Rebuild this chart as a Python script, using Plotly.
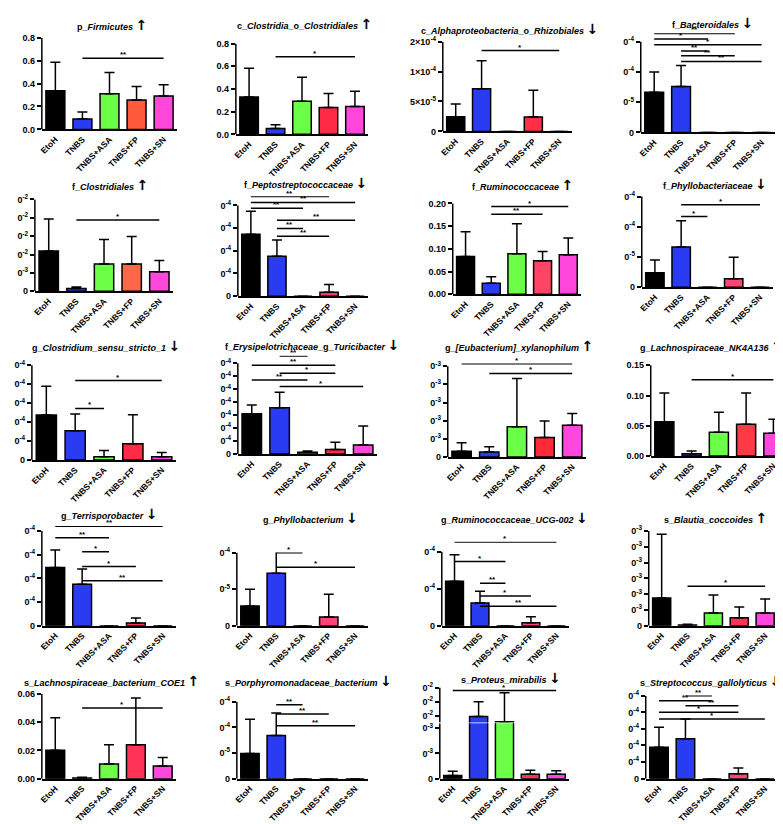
import plotly.graph_objects as go

W, H = 783, 824
groups = ["EtoH", "TNBS", "TNBS+ASA", "TNBS+FP", "TNBS+SN"]

# ---------------- data ----------------
firmicutes_mean = [0.338, 0.092, 0.312, 0.257, 0.292]
firmicutes_sd = [0.248, 0.061, 0.185, 0.118, 0.098]
firmicutes_sig = [(1, 4, "**", 0.621)]
firmicutes_ticks = [0, 0.2, 0.4, 0.6, 0.8]
firmicutes_ticktext = ["0.0", "0.2", "0.4", "0.6", "0.8"]

clostridiales_o_mean = [0.329, 0.052, 0.292, 0.237, 0.245]
clostridiales_o_sd = [0.254, 0.032, 0.211, 0.124, 0.136]
clostridiales_o_sig = [(1, 4, "*", 0.684)]
clostridiales_o_ticks = [0, 0.2, 0.4, 0.6, 0.8]
clostridiales_o_ticktext = ["0.0", "0.2", "0.4", "0.6", "0.8"]

rhizobiales_mean = [2.47e-5, 7.14e-5, 0, 2.42e-5, 0]
rhizobiales_sd = [2.09e-5, 4.66e-5, 0, 4.45e-5, 0]
rhizobiales_sig = [(1, 4, "*", 1.35e-4)]
rhizobiales_ticks = [0, 5e-5, 1e-4, 1.5e-4]
rhizobiales_ticktext = ["0", "5×10<sup>-5</sup>", "1×10<sup>-4</sup>", "2×10<sup>-4</sup>"]

bacteroidales_mean = [6.65e-5, 7.58e-5, 0, 0, 0]
bacteroidales_sd = [3.33e-5, 3.49e-5, 0, 0, 0]
bacteroidales_sig = [(0, 3, "**", 1.636e-4), (0, 2, "*", 1.543e-4), (0, 4, "*", 1.45e-4),
                     (1, 2, "**", 1.347e-4), (1, 3, "**", 1.265e-4), (1, 4, "**", 1.172e-4)]
bacteroidales_ticks = [0, 5e-5, 1e-4, 1.5e-4]
bacteroidales_ticktext = ["0", "0<sup>-5</sup>", "0<sup>-4</sup>", "0<sup>-4</sup>"]

clostridiales_f_mean = [1.10e-2, 7.2e-4, 7.4e-3, 7.4e-3, 5.3e-3]
clostridiales_f_sd = [8.7e-3, 4.4e-4, 6.7e-3, 7.5e-3, 3.1e-3]
clostridiales_f_sig = [(1, 4, "*", 1.94e-2)]
clostridiales_f_ticks = [0, 5e-3, 1e-2, 1.5e-2, 2e-2, 2.5e-2]
clostridiales_f_ticktext = ["0", "0<sup>-3</sup>", "0<sup>-2</sup>", "0<sup>-2</sup>", "0<sup>-2</sup>", "0<sup>-2</sup>"]

pepto_mean = [5.45e-4, 3.51e-4, 0, 3.5e-5, 0]
pepto_sd = [2.03e-4, 1.45e-4, 0, 6.9e-5, 0]
pepto_sig = [(0, 3, "**", 8.78e-4), (0, 4, "**", 8.26e-4), (0, 2, "**", 7.74e-4),
             (1, 4, "**", 6.70e-4), (1, 2, "**", 5.97e-4), (1, 3, "**", 5.28e-4)]
pepto_ticks = [0, 2e-4, 4e-4, 6e-4, 8e-4]
pepto_ticktext = ["0", "0<sup>-4</sup>", "0<sup>-4</sup>", "0<sup>-4</sup>", "0<sup>-4</sup>"]

rumino_mean = [0.0833, 0.0239, 0.0891, 0.0739, 0.087]
rumino_sd = [0.0544, 0.0145, 0.0659, 0.0203, 0.037]
rumino_sig = [(1, 4, "*", 0.193), (1, 3, "**", 0.176)]
rumino_ticks = [0, 0.05, 0.10, 0.15, 0.20]
rumino_ticktext = ["0.00", "0.05", "0.10", "0.15", "0.20"]

phyllo_f_mean = [2.39e-5, 6.68e-5, 0, 1.41e-5, 0]
phyllo_f_sd = [2.12e-5, 4.30e-5, 0, 3.54e-5, 0]
phyllo_f_sig = [(1, 4, "*", 1.364e-4), (1, 2, "*", 1.168e-4)]
phyllo_f_ticks = [0, 5e-5, 1e-4, 1.5e-4]
phyllo_f_ticktext = ["0", "0<sup>-5</sup>", "0<sup>-4</sup>", "0<sup>-4</sup>"]

csens_mean = [2.37e-4, 1.54e-4, 1.7e-5, 8.5e-5, 1.7e-5]
csens_sd = [1.52e-4, 0.88e-4, 3.3e-5, 1.54e-4, 2.3e-5]
csens_sig = [(1, 4, "*", 4.19e-4), (1, 2, "*", 2.72e-4)]
csens_ticks = [0, 1e-4, 2e-4, 3e-4, 4e-4, 5e-4]
csens_ticktext = ["0"] + ["0<sup>-4</sup>"] * 5

turici_mean = [3.10e-4, 3.58e-4, 1.3e-5, 3.6e-5, 6.9e-5]
turici_sd = [0.68e-4, 1.19e-4, 1.0e-5, 5.5e-5, 1.47e-4]
turici_sig = [(1, 2, "**", 7.56e-4), (0, 3, "**", 6.85e-4), (1, 3, "*", 6.24e-4),
              (0, 2, "**", 5.71e-4), (1, 4, "*", 5.20e-4)]
turici_ticks = [0, 1e-4, 2e-4, 3e-4, 4e-4, 5e-4, 6e-4, 7e-4]
turici_ticktext = ["0"] + ["0<sup>-4</sup>"] * 7

xylano_mean = [3.2e-4, 2.7e-4, 1.66e-3, 1.08e-3, 1.75e-3]
xylano_sd = [4.7e-4, 2.9e-4, 2.67e-3, 0.91e-3, 0.65e-3]
xylano_sig = [(0, 4, "*", 5.14e-3), (1, 4, "*", 4.60e-3)]
xylano_ticks = [0, 1e-3, 2e-3, 3e-3, 4e-3, 5e-3]
xylano_ticktext = ["0"] + ["0<sup>-3</sup>"] * 5

nk4a136_mean = [0.0565, 0.0038, 0.0391, 0.0527, 0.0375]
nk4a136_sd = [0.0475, 0.0044, 0.0332, 0.0513, 0.0234]
nk4a136_sig = [(1, 4, "*", 0.126)]
nk4a136_ticks = [0, 0.05, 0.10, 0.15]
nk4a136_ticktext = ["0.00", "0.05", "0.10", "0.15"]

terri_mean = [2.46e-4, 1.75e-4, 0, 0.12e-4, 0]
terri_sd = [0.74e-4, 0.65e-4, 0, 0.21e-4, 0]
terri_sig = [(0, 4, "**", 4.2e-4), (0, 2, "**", 3.72e-4), (1, 2, "*", 3.12e-4),
             (1, 3, "*", 2.5e-4), (1, 4, "**", 1.9e-4)]
terri_ticks = [0, 1e-4, 2e-4, 3e-4, 4e-4]
terri_ticktext = ["0"] + ["0<sup>-4</sup>"] * 4

phyllo_g_mean = [2.7e-5, 7.2e-5, 0, 1.2e-5, 0]
phyllo_g_sd = [2.3e-5, 3.7e-5, 0, 3.1e-5, 0]
phyllo_g_sig = [(1, 2, "*", 1.0e-4), (1, 4, "*", 0.8e-4)]
phyllo_g_ticks = [0, 5e-5, 1e-4]
phyllo_g_ticktext = ["0", "0<sup>-5</sup>", "0<sup>-4</sup>"]

ucg002_mean = [2.4e-4, 1.23e-4, 0, 0.16e-4, 0]
ucg002_sd = [1.44e-4, 0.64e-4, 0, 0.32e-4, 0]
ucg002_sig = [(0, 4, "*", 4.53e-4), (0, 2, "*", 3.47e-4), (1, 2, "**", 2.29e-4),
              (1, 3, "*", 1.6e-4), (1, 4, "**", 1.05e-4)]
ucg002_ticks = [0, 2e-4, 4e-4]
ucg002_ticktext = ["0", "0<sup>-4</sup>", "0<sup>-4</sup>"]

blautia_mean = [1.75e-3, 0.05e-3, 0.81e-3, 0.5e-3, 0.81e-3]
blautia_sd = [4.05e-3, 0.05e-3, 1.13e-3, 0.69e-3, 0.88e-3]
blautia_sig = [(1, 4, "*", 2.5e-3)]
blautia_ticks = [0, 1e-3, 2e-3, 3e-3, 4e-3, 5e-3, 6e-3]
blautia_ticktext = ["0"] + ["0<sup>-3</sup>"] * 6

coe1_mean = [0.020, 0.0005, 0.0103, 0.024, 0.009]
coe1_sd = [0.023, 0.0005, 0.0137, 0.033, 0.006]
coe1_sig = [(1, 4, "*", 0.050)]
coe1_ticks = [0, 0.02, 0.04, 0.06]
coe1_ticktext = ["0.00", "0.02", "0.04", "0.06"]

porphy_mean = [4.9e-5, 8.4e-5, 0, 0, 0]
porphy_sd = [6.7e-5, 4.4e-5, 0, 0, 0]
porphy_sig = [(1, 2, "**", 1.44e-4), (1, 3, "**", 1.26e-4), (1, 4, "**", 1.03e-4)]
porphy_ticks = [0, 5e-5, 1e-4, 1.5e-4]
porphy_ticktext = ["0", "0<sup>-5</sup>", "0<sup>-4</sup>", "0<sup>-4</sup>"]

# broken y axis: lower and upper segments
proteus_mean = [1.3e-4, 0.93e-2, 0.55e-2, 1.7e-4, 1.7e-4]
proteus_sd = [1.6e-4, 1.07e-2, 2.09e-2, 1.6e-4, 1.4e-4]
proteus_sig = [(0, 4, "*", 2.8e-2)]
proteus_ticks_low = [0, 1e-3, 2e-3]
proteus_ticktext_low = ["0", "0<sup>-3</sup>", "0<sup>-3</sup>"]
proteus_ticks_high = [1e-2, 2e-2, 3e-2]
proteus_ticktext_high = ["0<sup>-2</sup>", "0<sup>-2</sup>", "0<sup>-2</sup>"]

strepto_mean = [1.9e-4, 2.4e-4, 0, 0.3e-4, 0]
strepto_sd = [1.2e-4, 1.2e-4, 0, 0.35e-4, 0]
strepto_sig = [(1, 2, "**", 5.0e-4), (0, 2, "**", 4.7e-4), (1, 3, "**", 4.4e-4),
               (0, 3, "*", 4.0e-4), (0, 4, "*", 3.6e-4)]
strepto_ticks = [0, 1e-4, 2e-4, 3e-4, 4e-4, 5e-4]
strepto_ticktext = ["0"] + ["0<sup>-4</sup>"] * 5

# ---------------- panel definitions ----------------
panels = [
    dict(title="p_<i>Firmicutes</i>", up=True, mean=firmicutes_mean, sd=firmicutes_sd, sig=firmicutes_sig, ticks=firmicutes_ticks, tt=firmicutes_ticktext, fp="#ff5a3c"),
    dict(title="c_<i>Clostridia</i>_o_<i>Clostridiales</i>", up=True, mean=clostridiales_o_mean, sd=clostridiales_o_sd, sig=clostridiales_o_sig, ticks=clostridiales_o_ticks, tt=clostridiales_o_ticktext, fp="#ff2a45"),
    dict(title="c_<i>Alphaproteobacteria</i>_o_<i>Rhizobiales</i>", up=False, mean=rhizobiales_mean, sd=rhizobiales_sd, sig=rhizobiales_sig, ticks=rhizobiales_ticks, tt=rhizobiales_ticktext, fp="#ff3045"),
    dict(title="f_<i>Bacteroidales</i>", up=False, mean=bacteroidales_mean, sd=bacteroidales_sd, sig=bacteroidales_sig, ticks=bacteroidales_ticks, tt=bacteroidales_ticktext, fp="#ff3045"),
    dict(title="f_<i>Clostridiales</i>", up=True, mean=clostridiales_f_mean, sd=clostridiales_f_sd, sig=clostridiales_f_sig, ticks=clostridiales_f_ticks, tt=clostridiales_f_ticktext, fp="#ff6647"),
    dict(title="f_<i>Peptostreptococcaceae</i>", up=False, mean=pepto_mean, sd=pepto_sd, sig=pepto_sig, ticks=pepto_ticks, tt=pepto_ticktext, fp="#ff3366"),
    dict(title="f_<i>Ruminococcaceae</i>", up=True, mean=rumino_mean, sd=rumino_sd, sig=rumino_sig, ticks=rumino_ticks, tt=rumino_ticktext, fp="#ff4466"),
    dict(title="f_<i>Phyllobacteriaceae</i>", up=False, mean=phyllo_f_mean, sd=phyllo_f_sd, sig=phyllo_f_sig, ticks=phyllo_f_ticks, tt=phyllo_f_ticktext, fp="#ff4477"),
    dict(title="g_<i>Clostridium_sensu_stricto_1</i>", up=False, mean=csens_mean, sd=csens_sd, sig=csens_sig, ticks=csens_ticks, tt=csens_ticktext, fp="#ff2a44"),
    dict(title="f_<i>Erysipelotrichaceae</i>_g_<i>Turicibacter</i>", up=False, mean=turici_mean, sd=turici_sd, sig=turici_sig, ticks=turici_ticks, tt=turici_ticktext, fp="#ff2a44"),
    dict(title="g_<i>[Eubacterium]_xylanophilum</i>", up=True, mean=xylano_mean, sd=xylano_sd, sig=xylano_sig, ticks=xylano_ticks, tt=xylano_ticktext, fp="#ff2a3a"),
    dict(title="g_<i>Lachnospiraceae_NK4A136</i>", up=True, mean=nk4a136_mean, sd=nk4a136_sd, sig=nk4a136_sig, ticks=nk4a136_ticks, tt=nk4a136_ticktext, fp="#ff3a44"),
    dict(title="g_<i>Terrisporobacter</i>", up=False, mean=terri_mean, sd=terri_sd, sig=terri_sig, ticks=terri_ticks, tt=terri_ticktext, fp="#ff3355"),
    dict(title="g_<i>Phyllobacterium</i>", up=False, mean=phyllo_g_mean, sd=phyllo_g_sd, sig=phyllo_g_sig, ticks=phyllo_g_ticks, tt=phyllo_g_ticktext, fp="#ff4477"),
    dict(title="g_<i>Ruminococcaceae_UCG-002</i>", up=False, mean=ucg002_mean, sd=ucg002_sd, sig=ucg002_sig, ticks=ucg002_ticks, tt=ucg002_ticktext, fp="#ff4477"),
    dict(title="s_<i>Blautia_coccoides</i>", up=True, mean=blautia_mean, sd=blautia_sd, sig=blautia_sig, ticks=blautia_ticks, tt=blautia_ticktext, fp="#ff3355"),
    dict(title="s_<i>Lachnospiraceae_bacterium_COE1</i>", up=True, mean=coe1_mean, sd=coe1_sd, sig=coe1_sig, ticks=coe1_ticks, tt=coe1_ticktext, fp="#ff3355"),
    dict(title="s_<i>Porphyromonadaceae_bacterium</i>", up=False, mean=porphy_mean, sd=porphy_sd, sig=porphy_sig, ticks=porphy_ticks, tt=porphy_ticktext, fp="#ff3355"),
    dict(title="s_<i>Proteus_mirabilis</i>", up=False, mean=proteus_mean, sd=proteus_sd, sig=proteus_sig,
         ticks=proteus_ticks_low, tt=proteus_ticktext_low, ticks_hi=proteus_ticks_high, tt_hi=proteus_ticktext_high, fp="#ff3355"),
    dict(title="s_<i>Streptococcus_gallolyticus</i>", up=False, mean=strepto_mean, sd=strepto_sd, sig=strepto_sig, ticks=strepto_ticks, tt=strepto_ticktext, fp="#ff4477"),
]

# panel frames in pixels: left, right, baseline, top tick, title y, title centre x
frames = [
    (30, 166, 117, 24, 11, 101), (225, 358, 122, 30, 10, 294), (433, 563, 119, 28, 15, 500), (632, 767, 120, 28, 9, 704),
    (23, 162, 281, 188, 173, 99), (227, 358, 286, 194, 171, 295), (443, 572, 284, 192, 173, 513), (633, 765, 277, 185, 172, 707),
    (20, 165, 452, 356, 336, 94), (227, 367, 446, 354, 335, 302), (438, 577, 449, 357, 336, 510), (642, 779, 448, 356, 336, 703),
    (30, 165, 620, 524, 507, 97), (226, 358, 620, 546, 511, 300), (432, 560, 620, 545, 511, 505), (640, 770, 620, 524, 511, 707),
    (30, 165, 775, 689, 676, 100), (226, 358, 775, 697, 676, 298), (430, 560, 775, 724, 673, 502), (637, 770, 775, 691, 676, 702),
]
# broken-axis upper segment for the Proteus panel: bottom px, top px, range bottom, range top
upper_seg = (718, 680, 0.5e-2, 3.21e-2)

FONT = "Liberation Sans, Arial, sans-serif"
BLACK, BLUE, GREEN, SN = "#000000", "#2a3cf2", "#6cff47", "#ff47dd"
TICKFONT = dict(family=FONT, size=9, color="black", weight="bold")

fig = go.Figure()
shapes, annotations = [], []
layout = {}
extra_axis = len(panels) + 1


def yaxis_dict(dom, rng, anchor, ticks, tt):
    return dict(domain=dom, anchor=anchor, range=rng,
                showline=False, ticks="outside", ticklen=4, tickwidth=1.5, tickcolor="black",
                tickmode="array", tickvals=ticks, ticktext=tt, tickfont=TICKFONT,
                showgrid=False, zeroline=False, fixedrange=True)


def add_bars(p, xa, ya):
    sd = [v if v > 0 else None for v in p["sd"]]
    fig.add_trace(go.Bar(
        x=[0, 1, 2, 3, 4], y=p["mean"], xaxis=xa, yaxis=ya,
        marker=dict(color=[BLACK, BLUE, GREEN, p["fp"], SN], line=dict(color="black", width=1.5)),
        error_y=dict(type="data", symmetric=False, array=sd, arrayminus=[0] * 5,
                     color="black", thickness=1.5, width=5),
        showlegend=False, hoverinfo="skip"))


def add_sig(p, xa, ya):
    for (i, j, lab, yv) in p["sig"]:
        shapes.append(dict(type="line", xref=xa, yref=ya, x0=i, x1=j, y0=yv, y1=yv,
                           line=dict(color="black", width=1.5)))
        annotations.append(dict(xref=xa, yref=ya, x=(i + j) / 2, y=yv, text="<b>" + lab + "</b>",
                                showarrow=False, yanchor="bottom", yshift=-3,
                                font=dict(family=FONT, size=8, color="black")))


for k, (p, fr) in enumerate(zip(panels, frames)):
    n = k + 1
    sfx = "" if n == 1 else str(n)
    xa, ya = "x" + sfx, "y" + sfx
    left, right, base, top, ty, tx = fr
    tmax = p["ticks"][-1]

    layout["xaxis" + sfx] = dict(
        domain=[left / W, right / W], anchor=ya, range=[-0.5, 4.5],
        showline=True, linecolor="black", linewidth=1.5, ticks="",
        tickmode="array", tickvals=[0, 1, 2, 3, 4], ticktext=groups, tickangle=-45,
        tickfont=dict(family=FONT, size=8.5, color="black", weight="bold"),
        showgrid=False, zeroline=False, fixedrange=True)

    if "ticks_hi" in p:
        # lower segment
        ytop = tmax * 1.1
        dom_top = base - (base - top) * 1.1
        layout["yaxis" + sfx] = yaxis_dict([1 - base / H, 1 - dom_top / H], [0, ytop], xa, p["ticks"], p["tt"])
        add_bars(p, xa, ya)
        shapes.append(dict(type="line", xref=xa + " domain", x0=0, x1=0, yref=ya, y0=0, y1=ytop,
                           line=dict(color="black", width=1.5)))
        # upper segment
        ub, ut, r0, r1 = upper_seg
        ya2 = "y" + str(extra_axis)
        layout["yaxis" + str(extra_axis)] = yaxis_dict([1 - ub / H, 1 - ut / H], [r0, r1], xa,
                                                       p["ticks_hi"], p["tt_hi"])
        add_bars(p, xa, ya2)
        shapes.append(dict(type="line", xref=xa + " domain", x0=0, x1=0, yref=ya2, y0=r0,
                           y1=p["ticks_hi"][-1], line=dict(color="black", width=1.5)))
        add_sig(p, xa, ya2)
    else:
        hi = max([s[3] for s in p["sig"]] + [tmax])
        ytop = hi * 1.002
        ppu = (base - top) / tmax
        dom_top = base - ytop * ppu
        layout["yaxis" + sfx] = yaxis_dict([1 - base / H, 1 - dom_top / H], [0, ytop], xa, p["ticks"], p["tt"])
        add_bars(p, xa, ya)
        shapes.append(dict(type="line", xref=xa + " domain", x0=0, x1=0, yref=ya, y0=0, y1=tmax,
                           line=dict(color="black", width=1.5)))
        add_sig(p, xa, ya)

    arrow = "↑" if p["up"] else "↓"
    annotations.append(dict(
        xref="paper", yref="paper", x=tx / W, y=1 - ty / H, xanchor="center", yanchor="middle",
        showarrow=False,
        text="<b>" + p["title"] + " </b><span style='font-family:DejaVu Sans;font-size:14px;font-weight:bold'>" + arrow + "</span>",
        font=dict(family=FONT, size=9, color="black")))

fig.update_layout(
    width=W, height=H, margin=dict(l=0, r=0, t=0, b=0),
    paper_bgcolor="white", plot_bgcolor="white", bargap=0.3,
    shapes=shapes, annotations=annotations, **layout)

fig.write_html("out.html")
